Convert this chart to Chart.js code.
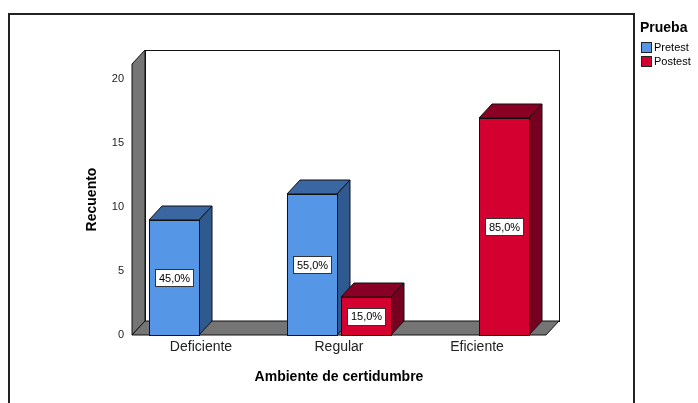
<!DOCTYPE html>
<html>
<head>
<meta charset="utf-8">
<script src="https://cdn.jsdelivr.net/npm/chart.js@4.4.0/dist/chart.umd.min.js"></script>
<style>
html,body{margin:0;padding:0;background:#fff;}
#wrap{width:698px;height:403px;position:relative;}
</style>
</head>
<body>
<div id="wrap"><canvas id="c" width="698" height="403"></canvas></div>
<script>
const categories = ["Deficiente", "Regular", "Eficiente"];
const pretest = [9, 11, 0];
const postest = [0, 3, 17];
const seriesNames = ["Pretest", "Postest"];
const yTicks = [0, 5, 10, 15, 20];

const FRONT = ["#5596E6", "#D4002F"];
const TOP = ["#3A67A2", "#8A0025"];
const SIDE = ["#2F5A90", "#760020"];
const DX = 13, DY = 14;

function pct(v, arr) {
  const t = arr.reduce((a, b) => a + b, 0);
  return (v / t * 100).toFixed(1).replace('.', ',') + '%';
}

const threeD = {
  id: 'threeD',
  beforeDraw(chart) {
    const ctx = chart.ctx;
    ctx.save();
    ctx.fillStyle = '#fff';
    ctx.fillRect(0, 0, chart.width, chart.height);
    ctx.strokeStyle = '#222';
    ctx.lineWidth = 2;
    ctx.strokeRect(9, 14, 625, 420);
    ctx.restore();
  },
  beforeDatasetsDraw(chart) {
    const ctx = chart.ctx;
    const a = chart.chartArea;
    ctx.save();
    ctx.lineWidth = 1;
    ctx.strokeStyle = '#111';
    ctx.fillStyle = '#fff';
    ctx.fillRect(a.left + DX, a.top - DY, a.right - a.left, a.bottom - a.top);
    ctx.strokeRect(a.left + DX + 0.5, a.top - DY + 0.5, a.right - a.left, a.bottom - a.top);
    ctx.fillStyle = '#757575';
    ctx.beginPath();
    ctx.moveTo(a.left, a.top);
    ctx.lineTo(a.left + DX, a.top - DY);
    ctx.lineTo(a.left + DX, a.bottom - DY);
    ctx.lineTo(a.left, a.bottom);
    ctx.closePath();
    ctx.fill(); ctx.stroke();
    ctx.beginPath();
    ctx.moveTo(a.left, a.bottom);
    ctx.lineTo(a.left + DX, a.bottom - DY);
    ctx.lineTo(a.right + DX, a.bottom - DY);
    ctx.lineTo(a.right, a.bottom);
    ctx.closePath();
    ctx.fill(); ctx.stroke();
    ctx.restore();
  },
  afterDatasetsDraw(chart) {
    const ctx = chart.ctx;
    ctx.save();
    ctx.lineWidth = 1;
    ctx.strokeStyle = '#111';
    const n = chart.data.labels.length;
    const labelsToDraw = [];
    for (let i = 0; i < n; i++) {
      chart.data.datasets.forEach((ds, d) => {
        const v = ds.data[i];
        if (!v) return;
        const el = chart.getDatasetMeta(d).data[i];
        const x1 = Math.round(el.x - el.width / 2), x2 = Math.round(el.x + el.width / 2);
        const y = Math.round(el.y), b = Math.round(el.base);
        ctx.fillStyle = TOP[d];
        ctx.beginPath();
        ctx.moveTo(x1, y); ctx.lineTo(x1 + DX, y - DY); ctx.lineTo(x2 + DX, y - DY); ctx.lineTo(x2, y);
        ctx.closePath(); ctx.fill(); ctx.stroke();
        ctx.fillStyle = SIDE[d];
        ctx.beginPath();
        ctx.moveTo(x2, y); ctx.lineTo(x2 + DX, y - DY); ctx.lineTo(x2 + DX, b - DY); ctx.lineTo(x2, b);
        ctx.closePath(); ctx.fill(); ctx.stroke();
        ctx.fillStyle = FRONT[d];
        ctx.fillRect(x1, y, x2 - x1, b - y);
        ctx.strokeRect(x1 + 0.5, y + 0.5, x2 - x1, b - y);
        labelsToDraw.push({x: (x1 + x2) / 2, y: (y + b) / 2, t: pct(v, ds.data)});
      });
    }
    ctx.font = '11px "Liberation Sans", Arial, sans-serif';
    ctx.textAlign = 'center';
    ctx.textBaseline = 'middle';
    labelsToDraw.forEach(l => {
      const w = Math.ceil(ctx.measureText(l.t).width) + 6;
      const h = 17;
      const bx = Math.round(l.x - w / 2), by = Math.round(l.y - h / 2);
      ctx.fillStyle = '#fff';
      ctx.fillRect(bx, by, w, h);
      ctx.strokeStyle = '#333';
      ctx.strokeRect(bx + 0.5, by + 0.5, w, h);
      ctx.fillStyle = '#000';
      ctx.fillText(l.t, l.x + 0.5, l.y + 1);
    });
    ctx.textAlign = 'left';
    ctx.fillStyle = '#000';
    ctx.font = 'bold 14px "Liberation Sans", Arial, sans-serif';
    ctx.fillText('Prueba', 640, 28);
    ctx.font = '11px "Liberation Sans", Arial, sans-serif';
    chart.data.datasets.forEach((ds, d) => {
      const yy = 42 + d * 14;
      ctx.fillStyle = FRONT[d];
      ctx.fillRect(641, yy, 10, 10);
      ctx.strokeStyle = '#222';
      ctx.strokeRect(641.5, yy + 0.5, 10, 10);
      ctx.fillStyle = '#000';
      ctx.fillText(ds.label, 654, yy + 5.5);
    });
    ctx.restore();
  }
};

new Chart(document.getElementById('c'), {
  type: 'bar',
  data: {
    labels: categories,
    datasets: [
      {label: seriesNames[0], data: pretest, backgroundColor: FRONT[0], borderWidth: 0},
      {label: seriesNames[1], data: postest, backgroundColor: FRONT[1], borderWidth: 0}
    ]
  },
  options: {
    responsive: false,
    animation: false,
    devicePixelRatio: 1,
    layout: {padding: {left: 84, right: 152, top: 64, bottom: 0}},
    categoryPercentage: 0.79,
    barPercentage: 0.91,
    plugins: {legend: {display: false}, tooltip: {enabled: false}},
    scales: {
      x: {
        grid: {display: false, drawTicks: false},
        border: {display: false},
        ticks: {color: '#222', font: {size: 14, family: '"Liberation Sans", Arial, sans-serif'}, padding: 4},
        title: {display: true, text: 'Ambiente de certidumbre', color: '#000',
          font: {size: 14, weight: 'bold', family: '"Liberation Sans", Arial, sans-serif'}, padding: {top: 0, bottom: 17.6}},
        afterFit(s) { s.height = 68; }
      },
      y: {
        min: 0,
        max: 21.2,
        grid: {display: false, drawTicks: false},
        border: {display: false},
        ticks: {stepSize: 5, color: '#222', font: {size: 11, family: '"Liberation Sans", Arial, sans-serif'}, padding: 8},
        afterBuildTicks(s) { s.ticks = yTicks.map(v => ({value: v})); },
        title: {display: true, text: 'Recuento', color: '#000',
          font: {size: 14, weight: 'bold', family: '"Liberation Sans", Arial, sans-serif'}, padding: {top: 0, bottom: 0}},
        afterFit(s) { s.width = 48; }
      }
    }
  },
  plugins: [threeD]
});
</script>
</body>
</html>
